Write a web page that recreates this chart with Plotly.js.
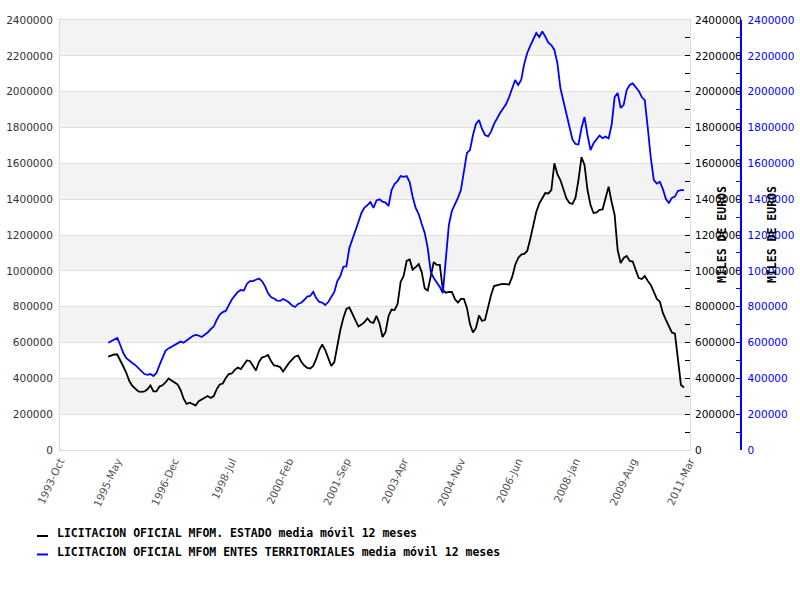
<!DOCTYPE html>
<html>
<head>
<meta charset="utf-8">
<script src="https://cdn.plot.ly/plotly-3.0.1.min.js"></script>
<style>html,body{margin:0;padding:0;background:#fff;}#chart{width:800px;height:600px;}</style>
</head>
<body>
<div id="chart"></div>
<script>
// Axis: monthly categories from 1993-Oct to 2011-Mar
const firstYear = 1993, firstMonth = 9; // Oct (0-based)
const monthNames = ['Jan','Feb','Mar','Apr','May','Jun','Jul','Aug','Sep','Oct','Nov','Dec'];
const monthCount = 210;
const tickLabels = ['1993-Oct','1995-May','1996-Dec','1998-Jul','2000-Feb','2001-Sep','2003-Apr','2004-Nov','2006-Jun','2008-Jan','2009-Aug','2011-Mar'];
const yTicks = [0,200000,400000,600000,800000,1000000,1200000,1400000,1600000,1800000,2000000,2200000,2400000];
const dataStart = '1995-Feb';
const axisTitle = 'MILES DE EUROS';

const seriesNames = [
  'LICITACION OFICIAL MFOM. ESTADO media móvil 12 meses',
  'LICITACION OFICIAL MFOM ENTES TERRITORIALES media móvil 12 meses'
];
const seriesColors = ['#000000', '#0000ff'];

const estado = [
  521000, 526000, 533000, 533000, 502000, 466000, 430000, 385000, 357000, 343000,
  327000, 325000, 327000, 339000, 360000, 327000, 327000, 354000, 361000, 377000,
  399000, 388000, 377000, 366000, 335000, 287000, 257000, 264000, 257000, 248000,
  273000, 282000, 290000, 301000, 290000, 301000, 340000, 366000, 371000, 402000,
  424000, 427000, 447000, 460000, 452000, 480000, 500000, 497000, 469000, 444000,
  491000, 516000, 522000, 530000, 497000, 472000, 469000, 463000, 438000, 463000,
  486000, 505000, 522000, 527000, 494000, 472000, 458000, 455000, 469000, 508000,
  558000, 589000, 558000, 513000, 469000, 491000, 592000, 670000, 737000, 787000,
  795000, 759000, 726000, 689000, 700000, 714000, 734000, 714000, 709000, 748000,
  706000, 631000, 659000, 748000, 784000, 781000, 815000, 938000, 971000, 1055000,
  1063000, 1007000, 1021000, 1037000, 993000, 901000, 890000, 971000, 1049000, 1033000,
  1033000, 893000, 878000, 882000, 882000, 843000, 823000, 843000, 843000, 793000,
  703000, 656000, 681000, 751000, 720000, 726000, 804000, 865000, 915000, 921000,
  924000, 927000, 924000, 924000, 966000, 1033000, 1072000, 1091000, 1094000, 1111000,
  1178000, 1256000, 1328000, 1376000, 1407000, 1434000, 1432000, 1451000, 1600000, 1540000,
  1507000, 1451000, 1404000, 1379000, 1373000, 1407000, 1507000, 1635000, 1591000, 1451000,
  1367000, 1323000, 1326000, 1340000, 1343000, 1407000, 1470000, 1384000, 1312000, 1116000,
  1044000, 1072000, 1083000, 1055000, 1052000, 1005000, 960000, 954000, 971000, 943000,
  921000, 882000, 843000, 828000, 765000, 726000, 692000, 656000, 650000, 502000,
  363000, 349000
];

const entes = [
  599000, 608000, 617000, 625000, 586000, 541000, 513000, 497000, 486000, 474000,
  458000, 438000, 424000, 419000, 424000, 413000, 430000, 474000, 519000, 553000,
  567000, 577000, 586000, 594000, 605000, 599000, 611000, 622000, 636000, 642000,
  639000, 631000, 642000, 656000, 675000, 689000, 726000, 756000, 770000, 776000,
  809000, 840000, 862000, 882000, 893000, 890000, 927000, 943000, 943000, 952000,
  957000, 943000, 915000, 876000, 854000, 846000, 834000, 832000, 843000, 834000,
  823000, 806000, 798000, 815000, 822000, 837000, 856000, 860000, 883000, 848000,
  826000, 823000, 809000, 826000, 857000, 882000, 943000, 971000, 1023000, 1025000,
  1127000, 1172000, 1228000, 1273000, 1323000, 1353000, 1367000, 1384000, 1351000, 1393000,
  1399000, 1386000, 1381000, 1362000, 1451000, 1485000, 1501000, 1529000, 1525000, 1529000,
  1496000, 1412000, 1351000, 1317000, 1261000, 1211000, 1127000, 993000, 960000, 938000,
  910000, 875000, 1088000, 1256000, 1334000, 1367000, 1407000, 1451000, 1563000, 1658000,
  1674000, 1758000, 1820000, 1842000, 1792000, 1758000, 1750000, 1777000, 1820000, 1853000,
  1881000, 1906000, 1931000, 1970000, 2015000, 2065000, 2037000, 2065000, 2154000, 2216000,
  2255000, 2288000, 2327000, 2305000, 2336000, 2307000, 2273000, 2260000, 2233000, 2160000,
  2020000, 1948000, 1881000, 1803000, 1733000, 1708000, 1705000, 1797000, 1859000, 1758000,
  1674000, 1712000, 1736000, 1755000, 1741000, 1749000, 1739000, 1814000, 1970000, 1993000,
  1909000, 1926000, 2009000, 2037000, 2046000, 2026000, 2004000, 1970000, 1953000, 1797000,
  1630000, 1507000, 1487000, 1497000, 1457000, 1401000, 1379000, 1407000, 1414000, 1446000,
  1451000, 1451000
];

// build month categories
const months = [];
for (let k = 0; k < monthCount; k++) {
  const m = firstMonth + k;
  months.push((firstYear + Math.floor(m / 12)) + '-' + monthNames[m % 12]);
}
const startIdx = months.indexOf(dataStart);
const xData = months.slice(startIdx, startIdx + estado.length);

const yMax = yTicks[yTicks.length - 1];
const tickFont = {family: 'DejaVu Sans', size: 10.5, color: '#333333'};
const monoBold = {family: 'DejaVu Sans Mono', size: 11.5, color: '#000000', weight: 'bold'};

// alternating background bands
const shapes = [];
for (let k = 1; k < yTicks.length - 1; k += 2) {
  shapes.push({type: 'rect', xref: 'paper', yref: 'y', x0: 0, x1: 1, y0: yTicks[k], y1: yTicks[k + 1],
    fillcolor: '#f3f3f3', line: {width: 0}, layer: 'below'});
}

// custom legend (short line sample + bold mono text) and rotated axis titles
const annotations = [];
const legendRows = [{ty: -0.193, ly: -0.2}, {ty: -0.2372, ly: -0.243}];
seriesNames.forEach((nm, k) => {
  annotations.push({xref: 'paper', yref: 'paper', x: -0.008, y: legendRows[k].ty, xanchor: 'left', yanchor: 'middle',
    text: '<b>' + nm + '</b>', showarrow: false, font: monoBold});
  shapes.push({type: 'line', xref: 'paper', yref: 'paper', x0: -0.0365, x1: -0.019, y0: legendRows[k].ly, y1: legendRows[k].ly,
    line: {color: seriesColors[k], width: 2}});
});
[1.0508, 1.1302].forEach(px => {
  annotations.push({xref: 'paper', yref: 'paper', x: px, y: 0.5, xanchor: 'center', yanchor: 'middle',
    text: '<b>' + axisTitle + '</b>', textangle: -90, showarrow: false, font: monoBold});
});

const traces = [
  {x: xData, y: estado, name: seriesNames[0], type: 'scatter', mode: 'lines', yaxis: 'y2',
   line: {color: seriesColors[0], width: 1.8}},
  {x: xData, y: entes, name: seriesNames[1], type: 'scatter', mode: 'lines', yaxis: 'y3',
   line: {color: seriesColors[1], width: 1.8}}
];

const layout = {
  width: 800, height: 600,
  margin: {l: 60, r: 110, t: 20, b: 150},
  paper_bgcolor: '#ffffff', plot_bgcolor: '#ffffff',
  showlegend: false,
  shapes: shapes,
  annotations: annotations,
  xaxis: {type: 'category', categoryorder: 'array', categoryarray: months,
    range: [0, monthCount - 1], tickmode: 'array', tickvals: tickLabels, ticktext: tickLabels,
    tickangle: -65, tickfont: {family: 'DejaVu Sans', size: 10.5, color: '#555555'},
    showgrid: false, zeroline: false, showline: true, mirror: true, linecolor: '#dcdcdc', linewidth: 1,
    ticks: ''},
  yaxis: {range: [0, yMax], tickmode: 'array', tickvals: yTicks, ticktext: yTicks.map(String),
    tickfont: tickFont, showgrid: true, gridcolor: '#e0e0e0', zeroline: false,
    showline: true, mirror: true, linecolor: '#dcdcdc', ticks: '', ticklabelstandoff: 4},
  yaxis2: {overlaying: 'y', side: 'right', anchor: 'x', range: [0, yMax], tickmode: 'array',
    tickvals: yTicks, ticktext: yTicks.map(String), tickfont: {family: 'DejaVu Sans', size: 10.5, color: '#000000'},
    showgrid: false, zeroline: false, showline: false, ticks: 'inside', ticklen: 5, tickcolor: '#000000',
    minor: {dtick: 100000, tick0: 0, ticks: 'inside', ticklen: 5, tickcolor: '#000000', showgrid: false},
    ticklabelstandoff: 4},
  yaxis3: {overlaying: 'y', side: 'right', anchor: 'free', position: 1, shift: 50, autoshift: false,
    range: [0, yMax], tickmode: 'array', tickvals: yTicks, ticktext: yTicks.map(String),
    tickfont: {family: 'DejaVu Sans', size: 10.5, color: '#0000ff'},
    showgrid: false, zeroline: false, showline: true, linecolor: '#0000ff', linewidth: 1.5,
    ticks: 'inside', ticklen: 4, tickcolor: '#0000ff',
    minor: {dtick: 100000, tick0: 0, ticks: 'inside', ticklen: 4, tickcolor: '#0000ff', showgrid: false},
    ticklabelstandoff: 4}
};

Plotly.newPlot('chart', traces, layout, {displayModeBar: false, staticPlot: true});
</script>
</body>
</html>
